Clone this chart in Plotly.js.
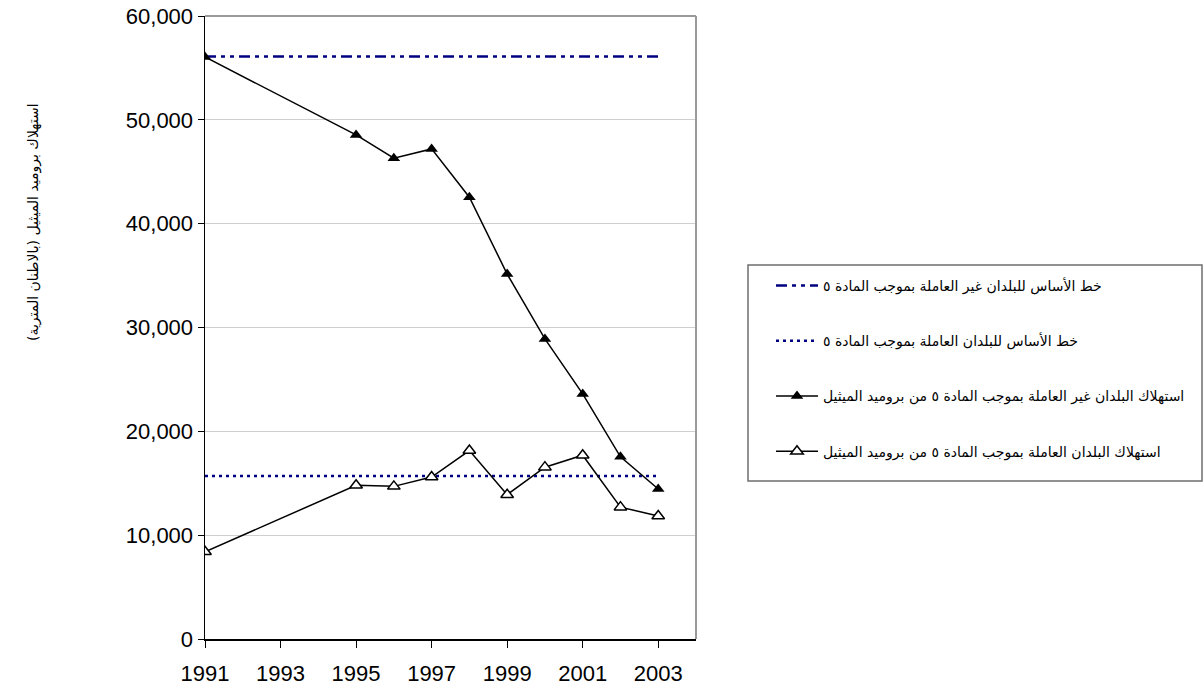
<!DOCTYPE html>
<html>
<head>
<meta charset="utf-8">
<script src="https://cdn.plot.ly/plotly-3.0.1.min.js"></script>
<style>html,body{margin:0;padding:0;background:#fff;}#chart{width:1203px;height:685px;}</style>
</head>
<body>
<div id="chart"></div>
<script>
// ---- data ----
const years = [1991, 1995, 1996, 1997, 1998, 1999, 2000, 2001, 2002, 2003];
const nonA5Consumption = [56050, 48550, 46300, 47200, 42550, 35150, 28900, 23600, 17550, 14450];
const a5Consumption = [8400, 14800, 14700, 15600, 18150, 13900, 16550, 17700, 12700, 11850];
const baselineYears = [1991, 2003];
const nonA5Baseline = 56100;
const a5Baseline = 15700;
const xTickVals = [1991, 1993, 1995, 1997, 1999, 2001, 2003];

const names = [
  "خط الأساس للبلدان غير العاملة بموجب المادة ٥",
  "خط الأساس للبلدان العاملة بموجب المادة ٥",
  "استهلاك البلدان غير العاملة بموجب المادة ٥ من بروميد الميثيل",
  "استهلاك البلدان العاملة بموجب المادة ٥ من بروميد الميثيل"
];
const yTitle = "استهلاك بروميد الميثيل (بالاطنان المترية)";

const navy = "#000080";
const traces = [
  {x: baselineYears, y: baselineYears.map(() => nonA5Baseline), name: names[0], legendgroup: "g1",
   mode: "lines", line: {color: navy, width: 2.5, dash: "11px,5px,4px,5px,4px,5px"}},
  {x: baselineYears, y: baselineYears.map(() => a5Baseline), name: names[1], legendgroup: "g2",
   mode: "lines", line: {color: navy, width: 2.5, dash: "3px,4px"}},
  {x: years, y: nonA5Consumption, name: names[2], legendgroup: "g3",
   mode: "lines+markers", line: {color: "#000", width: 1.5},
   marker: {symbol: "triangle-up", size: 11, color: "#000", line: {width: 0}}},
  {x: years, y: a5Consumption, name: names[3], legendgroup: "g4",
   mode: "lines+markers", line: {color: "#000", width: 1.5},
   marker: {symbol: "triangle-up", size: 11, color: "#fff", line: {color: "#000", width: 1.5}}}
];

const L = 205, R = 696, T = 16, B = 639, W = 1203, H = 685;
const pw = R - L, ph = B - T;
const px = v => (v - L) / pw;
const py = v => (B - v) / ph;

const layout = {
  width: W, height: H,
  margin: {l: L, r: W - R, t: T, b: H - B, pad: 0},
  paper_bgcolor: "#fff", plot_bgcolor: "#fff",
  font: {family: "Liberation Sans, Arial, sans-serif", color: "#000"},
  showlegend: true,
  legend: {
    x: px(771), y: py(270), xanchor: "left", yanchor: "top",
    bgcolor: "rgba(0,0,0,0)", borderwidth: 0,
    font: {family: "DejaVu Sans", size: 14, color: "#000"},
    tracegroupgap: 34, traceorder: "grouped", itemwidth: 42
  },
  xaxis: {
    range: [1991, 2004], tickvals: xTickVals, ticktext: xTickVals.map(String),
    showgrid: false, zeroline: false,
    showline: true, linecolor: "#000", linewidth: 1.5,
    ticks: "outside", ticklen: 7, tickcolor: "#000", tickwidth: 1,
    ticklabelstandoff: 7,
    tickfont: {size: 22, family: "Liberation Sans, Arial"}
  },
  yaxis: {
    range: [0, 60000], dtick: 10000, tickformat: ",d",
    showgrid: true, gridcolor: "#cfcfcf", gridwidth: 1, zeroline: false,
    showline: true, linecolor: "#000", linewidth: 1.5,
    ticks: "outside", ticklen: 6, tickcolor: "#000", tickwidth: 1,
    tickfont: {size: 22, family: "Liberation Sans, Arial"}
  },
  shapes: [
    {type: "line", xref: "paper", yref: "paper", x0: 0, x1: 1, y0: 1, y1: 1, line: {color: "#9a9a9a", width: 2}},
    {type: "line", xref: "paper", yref: "paper", x0: 1, x1: 1, y0: 0, y1: 1, line: {color: "#9a9a9a", width: 2}},
    {type: "rect", xref: "paper", yref: "paper", x0: px(748), x1: px(1202), y0: py(481), y1: py(265),
     line: {color: "#6e6e6e", width: 1.5}, fillcolor: "rgba(0,0,0,0)"}
  ],
  annotations: [
    {text: yTitle, xref: "paper", yref: "paper", x: px(33), y: py(222), xanchor: "center", yanchor: "middle",
     textangle: -90, showarrow: false, font: {family: "DejaVu Sans", size: 14, color: "#000"}}
  ]
};

Plotly.newPlot("chart", traces, layout, {displayModeBar: false, staticPlot: true});
</script>
</body>
</html>
